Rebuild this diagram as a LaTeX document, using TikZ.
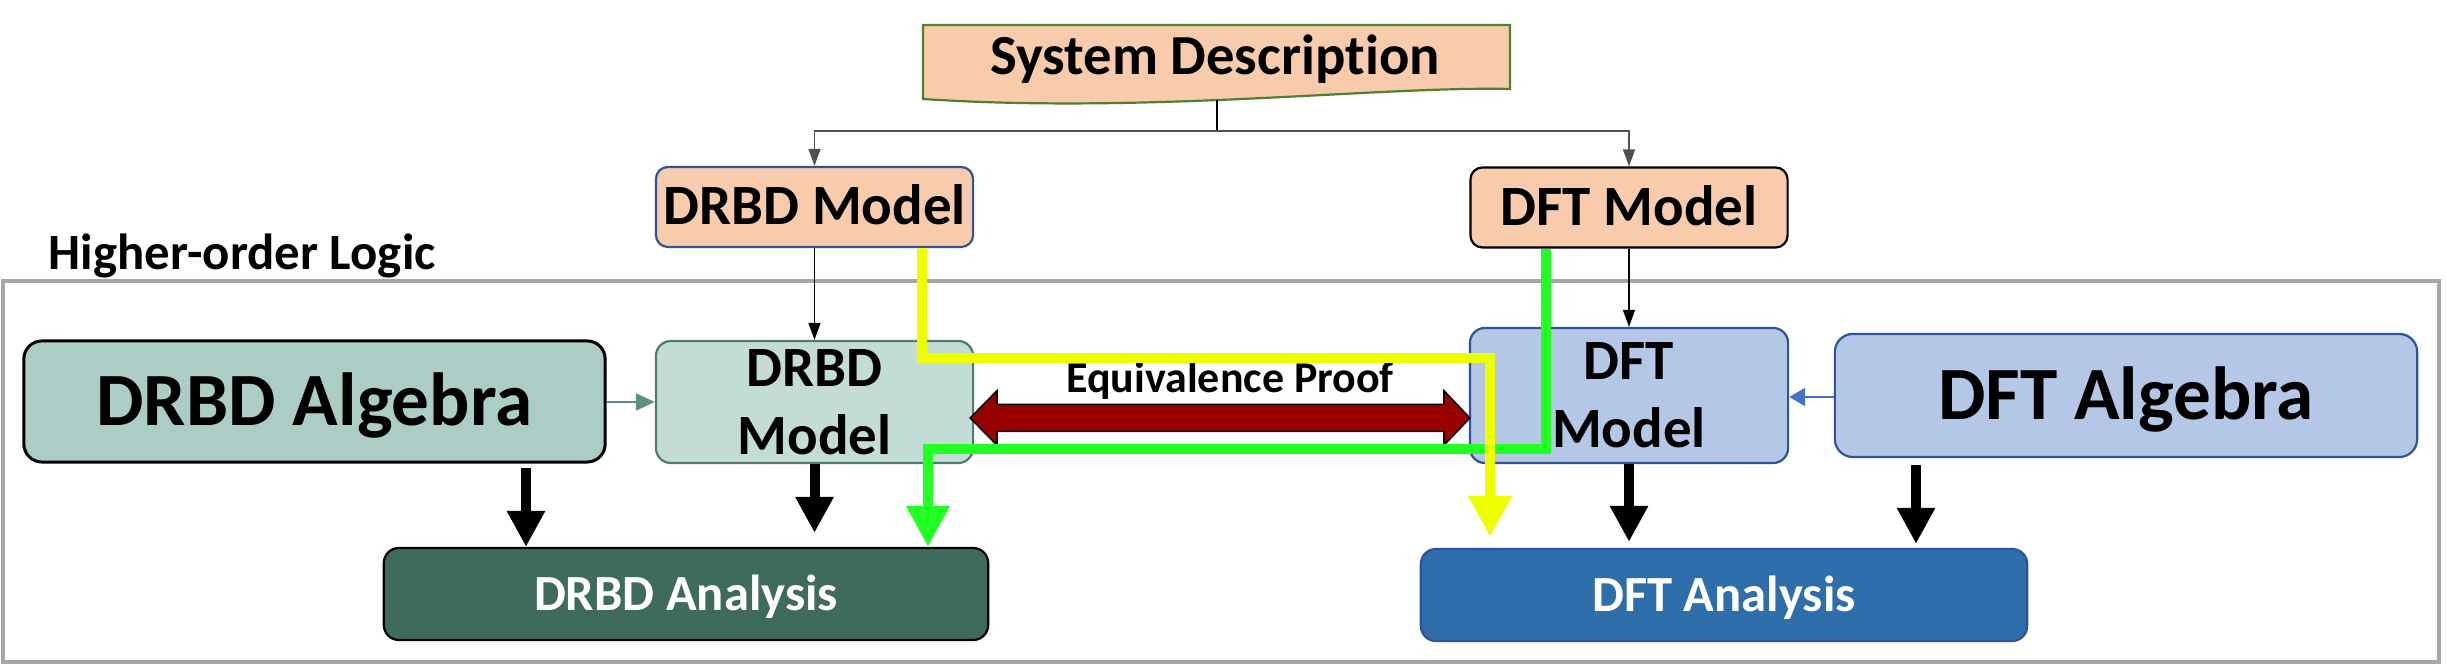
\documentclass[tikz,border=0pt]{standalone}
\usepackage{fontspec}
\setmainfont{Carlito}[Ligatures=NoCommon]
\usetikzlibrary{arrows.meta,calc}
\definecolor{peach}{RGB}{248,203,173}
\definecolor{sysborder}{RGB}{80,126,50}
\definecolor{bluebd}{RGB}{47,85,151}
\definecolor{algteal}{RGB}{171,205,197}
\definecolor{mteal}{RGB}{195,221,214}
\definecolor{mtealbd}{RGB}{78,124,112}
\definecolor{dftfill}{RGB}{180,199,231}
\definecolor{anagreen}{RGB}{63,106,94}
\definecolor{anablue}{RGB}{46,110,171}
\definecolor{framegray}{RGB}{166,166,166}
\definecolor{hlyellow}{RGB}{238,255,0}
\definecolor{hlgreen}{RGB}{34,255,34}
\definecolor{proofred}{RGB}{153,0,0}
\definecolor{algarrow}{RGB}{95,143,132}
\definecolor{dftarrow}{RGB}{68,114,196}
\definecolor{busgray}{RGB}{80,80,80}
\begin{document}
\begin{tikzpicture}[x=0.01cm,y=-0.01cm,
  box/.style={rectangle, rounded corners=0.12cm, inner sep=0pt, line width=0.022cm},
  topbox/.style={box, fill=peach, minimum width=3.17cm, minimum height=0.8cm,
    font=\fontsize{16.2}{19.4}\selectfont\bfseries, text height=0.36cm, text depth=0cm},
  algbox/.style={box, rounded corners=0.18cm, minimum width=5.81cm, minimum height=1.21cm,
    font=\fontsize{21.4}{25}\selectfont\bfseries, text height=0.475cm, text depth=0cm},
  modbox/.style={box, rounded corners=0.15cm, minimum width=3.17cm, align=center,
    font=\fontsize{16.2}{19.35}\selectfont\bfseries},
  anabox/.style={box, rounded corners=0.15cm, minimum width=6.05cm, minimum height=0.92cm,
    text=white, font=\fontsize{14.4}{17}\selectfont\bfseries, text height=0.32cm, text depth=0cm},
  thinarrow/.style={line width=0.016cm, -{Triangle[length=0.17cm,width=0.12cm]}},
  fatarrow/.style={line width=0.1cm, -{Triangle[length=0.36cm,width=0.36cm]}},
  hlarrow/.style={line width=0.1cm, line join=miter, -{Triangle[length=0.41cm,width=0.41cm]}},
]
\useasboundingbox (0,0) rectangle (2446,668);
\fill[white] (0,0) rectangle (2446,668);

% Higher-order logic frame
\draw[framegray, line width=0.035cm] (3,281) rectangle (2439,662);
\node[anchor=base west, font=\fontsize{14.45}{17}\selectfont\bfseries, inner sep=0pt] (hol) at (48,270) {Higher-order Logic};

% System description (document shape)
\draw[sysborder, fill=peach, line width=0.022cm] (923,25) -- (1510,25) -- (1510,89)
  .. controls (1380,86) and (1150,114) .. (923,99) -- cycle;
\node[anchor=base, font=\fontsize{16.1}{19.3}\selectfont\bfseries, inner sep=0pt] (sys) at (1215,75) {System Description};
\coordinate (sysb) at (1217,100);
\coordinate (bus) at (1217,131);

% top models
\node[topbox, draw=bluebd] (drbdtop) at (814.5,207) {DRBD Model};
\node[topbox, draw=black] (dfttop) at (1629,207.5) {DFT Model};

% inner boxes
\node[algbox, fill=algteal, draw=black, line width=0.03cm] (drbdalg) at (314.5,401.5) {DRBD Algebra};
\node[modbox, fill=mteal, draw=mtealbd, minimum height=1.22cm] (drbdm) at (814.5,402) {DRBD\\Model};
\node[modbox, fill=dftfill, draw=bluebd, minimum width=3.18cm, minimum height=1.35cm] (dftm) at (1629,395.5) {DFT\\Model};
\node[algbox, fill=dftfill, draw=bluebd, minimum width=5.82cm, minimum height=1.23cm] (dftalg) at (2126,395.5) {DFT Algebra};
\node[anabox, fill=anagreen, draw=black, minimum width=6.04cm] (drbdana) at (686,594) {DRBD Analysis};
\node[anabox, fill=anablue, draw=bluebd, minimum width=6.06cm] (dftana) at (1724,595) {DFT Analysis};

% thin connectors
\draw[line width=0.016cm] (sysb) -- (bus);
\draw[thinarrow, busgray] (bus) -| (drbdtop.north);
\draw[thinarrow, busgray] (bus) -| (dfttop.north);
\draw[thinarrow] (drbdtop.south) -- (drbdm.north);
\draw[thinarrow] (dfttop.south) -- (dftm.north);
\draw[algarrow, line width=0.022cm, -{Triangle[length=0.19cm,width=0.17cm]}] (drbdalg.east |- drbdm.west) -- (drbdm.west);
\coordinate (xb) at (0,397);
\draw[dftarrow, line width=0.022cm, -{Triangle[length=0.16cm,width=0.18cm]}] (dftalg.west |- xb) -- (dftm.east |- xb);

% equivalence proof double arrow
\coordinate (L) at ($(drbdm.east)+(-4,16)$);
\coordinate (R) at ($(dftm.west)+(1,22.5)$);
\draw[fill=proofred, draw=black, line width=0.015cm, line join=miter]
  (L) -- ($(L)+(27,-27.5)$) -- ($(L)+(27,-13.5)$) -- ($(R)+(-26,-13.5)$) -- ($(R)+(-26,-27.5)$)
  -- (R) -- ($(R)+(-26,27.5)$) -- ($(R)+(-26,13.5)$) -- ($(L)+(27,13.5)$) -- ($(L)+(27,27.5)$) -- cycle;
\node[anchor=base, font=\fontsize{12.5}{15}\selectfont\bfseries, inner sep=0pt] (eqp) at (1230,393) {Equivalence Proof};

% thick black arrows
\coordinate (xa1) at (526,0);
\coordinate (xa4) at (1916,0);
\draw[fatarrow] ($(drbdalg.south -| xa1)+(0,4)$) -- (drbdana.north -| xa1);
\draw[fatarrow] (drbdm.south) -- ($(drbdana.north -| drbdm.south)+(0,-14)$);
\draw[fatarrow] (dftm.south) -- ($(dftana.north -| dftm.south)+(0,-6)$);
\draw[fatarrow] ($(dftalg.south -| xa4)+(0,7)$) -- ($(dftana.north -| xa4)+(0,-4)$);

% highlight paths
\coordinate (g1) at (1546,449);
\coordinate (g2) at (928,449);
\draw[hlarrow, hlgreen] (dfttop.south -| g1) -- (g1) -- (g2) -- (drbdana.north -| g2);
\coordinate (y1) at (922,358);
\coordinate (y2) at (1490,358);
\draw[hlarrow, hlyellow] (drbdtop.south -| y1) -- (y1) -- (y2) -- ($(dftana.north -| y2)+(0,-11)$);
\end{tikzpicture}
\end{document}
